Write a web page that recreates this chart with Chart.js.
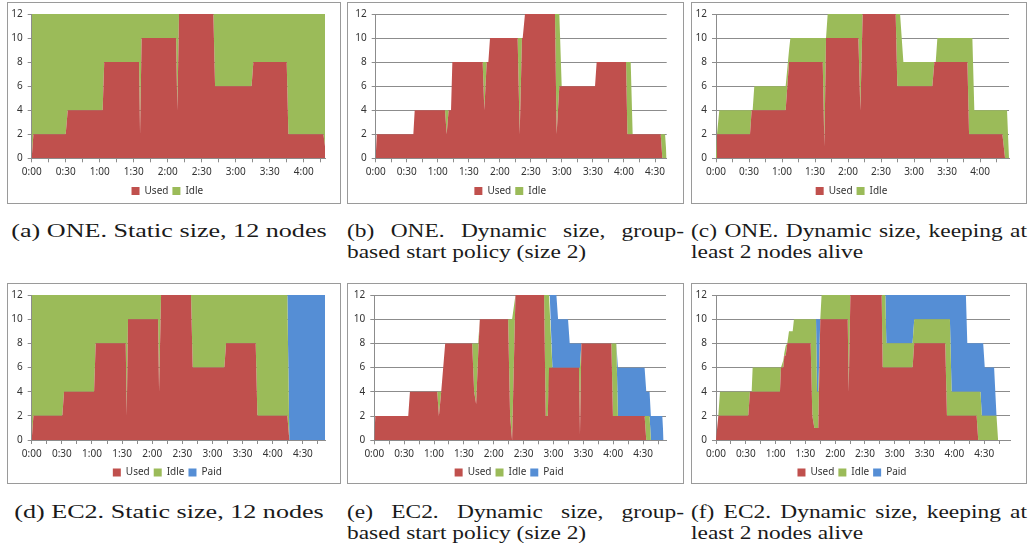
<!DOCTYPE html>
<html>
<head>
<meta charset="utf-8">
<script src="https://cdn.jsdelivr.net/npm/chart.js@4.4.1/dist/chart.umd.min.js"></script>
<style>
  body { margin: 0; background: #fff; width: 1029px; height: 550px; position: relative; overflow: hidden; }
  .box { position: absolute; border: 1px solid #9a9a9a; box-sizing: border-box; overflow: hidden; }
  .box canvas { position: absolute; left: 0; top: 0; }
  .cap { position: absolute; font-family: "Liberation Serif", serif; font-size: 18px; line-height: 21px;
         color: #1a1a1a; transform-origin: 0 0; text-align: justify; text-align-last: left; }
  .cap.single { text-align: center; text-align-last: center; white-space: nowrap; }
</style>
</head>
<body>

<script>
// minutes since start, node counts
const aTime = [0, 1.5, 30, 31.8, 62.6, 64, 94.7, 95.6, 97, 127.4, 128.5, 130, 160.3, 161.8, 194, 195.6, 225, 226.5, 257.4, 258.8];
const aUsed = [0, 2, 2, 4, 4, 8, 8, 2, 10, 10, 4, 12, 12, 6, 6, 8, 8, 2, 2, 1];
const aIdle = [12, 10, 10, 8, 8, 4, 4, 10, 2, 2, 8, 0, 0, 6, 6, 4, 4, 10, 10, 11];

const bTime = [0, 1, 36.4, 37.7, 67, 68.6, 70.5, 72.8, 74.1, 103.4, 105, 107.3, 108.9, 110.5, 137.2, 139.2, 141.4, 142.1, 144.3,
               173.3, 174.9, 177.5, 179.8, 212, 213.6, 242, 243.3, 246.5, 248.4, 275.5, 277.1, 279.7, 281.3];
const bUsed = [0, 2, 2, 4, 4, 2, 4, 4, 8, 8, 4, 8, 8, 10, 10, 2, 10, 10, 12, 12, 2, 6, 6, 6, 8, 8, 2, 2, 2, 2, 0, 0, 0];
const bIdle = [0, 0, 0, 0, 0, 2, 0, 0, 0, 0, 4, 0, 0, 0, 0, 8, 0, 0, 0, 0, 10, 6, 0, 0, 0, 0, 6, 6, 0, 0, 2, 2, 0];

const cTime = [0, 0.9, 3, 30.9, 32.4, 33.3, 34.8, 63.3, 66.4, 67.6, 97, 98.5, 100, 101.5, 129.4, 131.2, 133.3, 163.3, 164.8,
               167.3, 170.3, 196.6, 198.5, 199.7, 201.2, 228.5, 230, 233, 234.8, 260.3, 262.7, 264.5, 266.3];
const cUsed = [0, 2, 2, 2, 4, 4, 4, 4, 8, 8, 8, 1, 10, 10, 10, 4, 12, 12, 6, 6, 6, 6, 8, 8, 8, 8, 2, 2, 2, 2, 0, 0, 0];
const cIdle = [0, 0, 2, 2, 0, 0, 2, 2, 1, 2, 2, 9, 0, 2, 2, 8, 0, 0, 6, 6, 2, 2, 0, 0, 2, 2, 8, 8, 2, 2, 4, 4, 0];

const dTime = [0, 1.7, 30.5, 32.2, 62.1, 63.7, 93.6, 94.6, 95.9, 125.8, 126.8, 128.8, 158.6, 160.3, 191.8, 193.5, 223, 224.7, 254.5, 256.5, 292];
const dUsed = [0, 2, 2, 4, 4, 8, 8, 2, 10, 10, 4, 12, 12, 6, 6, 8, 8, 2, 2, 0, 0];
const dIdle = [12, 10, 10, 8, 8, 4, 4, 10, 2, 2, 8, 0, 0, 6, 6, 4, 4, 10, 10, 0, 0];
const dPaid = [0, 0, 0, 0, 0, 0, 0, 0, 0, 0, 0, 0, 0, 0, 0, 0, 0, 0, 0, 12, 12];

const eTime = [0, 1, 34.1, 35.8, 63.2, 64.9, 67.2, 71.2, 98.3, 100.3, 102.3, 104.3, 106, 134.4, 136.4, 138.4, 141.8,
               170.5, 172.2, 174.2, 175.5, 176.2, 178.9, 182.9, 184.6, 194.6, 196.3, 205.6, 206.6, 208,
               238.1, 239.7, 243.1, 244.7, 271.5, 273.2, 276.5, 277.8, 289.3, 290.6];
const eUsed = [0, 2, 2, 4, 4, 2, 4, 8, 8, 4, 3, 7, 10, 10, 2, 0, 12, 12, 2, 2, 6, 6, 6, 6, 6, 6, 6, 6, 0.5, 8,
               8, 2, 2, 2, 2, 0, 0, 0, 0, 0];
const eIdle = [0, 0, 0, 0, 0, 2, 0, 0, 0, 4, 5, 1, 0, 0, 8, 10, 0, 0, 10, 10, 6, 6, 0, 0, 0, 0, 0, 0, 5.5, 0,
               0, 6, 6, 0, 0, 2, 2, 0, 0, 0];
const ePaid = [0, 0, 0, 0, 0, 0, 0, 0, 0, 0, 0, 0, 0, 0, 0, 0, 0, 0, 0, 0, 0, 0, 6, 6, 4, 4, 2, 2, 2, 0,
               0, 0, 0, 4, 4, 2, 2, 2, 2, 0];

const fTime = [0, 2.35, 4, 32.5, 34.2, 35.9, 36.9, 64.4, 65.4, 67.8, 68.8, 70.2, 71.8, 73.5, 77.2, 78.5, 95.3, 97, 99,
               100.7, 101.7, 103, 105, 106.3, 132.6, 133.6, 135.3,
               166.8, 167.8, 170.5, 171.5, 197.9, 199.6, 230.8, 232.5, 235.5, 237.2, 251.6, 253, 262.4, 264, 266.3,
               267.6, 269, 270.6, 280, 282.4, 284];
const fUsed = [0, 2, 2, 2, 4, 4, 4, 4, 6, 6, 7, 7, 8, 8, 8, 8, 8, 2, 1, 1, 1, 1, 10, 10, 10, 4, 12,
               12, 6, 6, 6, 6, 8, 8, 2, 2, 2, 2, 2, 2, 0, 0, 0, 0, 0, 0, 0, 0];
const fIdle = [0, 0, 2, 2, 0, 0, 2, 2, 0, 0.6, 0.2, 0.8, 0, 1, 1, 2, 2, 8, 9, 9, 3, 3, 0, 2, 2, 8, 0,
               0, 6, 6, 2, 2, 2, 2, 8, 8, 2, 2, 2, 2, 4, 4, 2, 2, 2, 2, 2, 0];
const fPaid = [0, 0, 0, 0, 0, 0, 0, 0, 0, 0, 0, 0, 0, 0, 0, 0, 0, 0, 0, 0, 6, 6, 0, 0, 0, 0, 0,
               0, 0, 0, 4, 4, 2, 2, 2, 2, 8, 8, 4, 4, 4, 4, 6, 6, 4, 4, 0, 0];

const xMax = { a: 258.8, b: 281.3, c: 266.3, d: 292, e: 293, f: 296 };

const captions = {
  a: '(a) ONE. Static size, 12 nodes',
  b: '(b) ONE. Dynamic size, group-based start policy (size 2)',
  c: '(c) ONE. Dynamic size, keeping at least 2 nodes alive',
  d: '(d) EC2. Static size, 12 nodes',
  e: '(e) EC2. Dynamic size, group-based start policy (size 2)',
  f: '(f) EC2. Dynamic size, keeping at least 2 nodes alive'
};

const RED = '#C0504D', GREEN = '#9BBB59', BLUE = '#558ED5';
const AXIS = '#8c8c8c';
const tickFont = { family: 'Noto Sans', size: 10 };

// box position and where the plot area should land inside the canvas
const panels = [
  { id: 'a', box: [7, 2, 334, 202], pad: { l: 1.7, r: 15, t: 8.7, b: -3, xh: 23.7 }, times: aTime,
    series: [['Used', aUsed, RED], ['Idle', aIdle, GREEN]] },
  { id: 'b', box: [347, 2, 337, 202], pad: { l: 5.7, r: 16.3, t: 8.3, b: -3, xh: 23.7 }, times: bTime,
    series: [['Used', bUsed, RED], ['Idle', bIdle, GREEN]] },
  { id: 'c', box: [691, 2, 336, 202], pad: { l: 2, r: 17, t: 8.3, b: -3, xh: 23.7 }, times: cTime,
    series: [['Used', cUsed, RED], ['Idle', cIdle, GREEN]] },
  { id: 'd', box: [7, 283, 334, 201], pad: { l: 1.7, r: 15, t: 9.7, b: -4.5, xh: 23.5 }, times: dTime,
    series: [['Used', dUsed, RED], ['Idle', dIdle, GREEN], ['Paid', dPaid, BLUE]] },
  { id: 'e', box: [347, 283, 337, 201], pad: { l: 4.3, r: 17, t: 9.7, b: -4.5, xh: 23.2 }, times: eTime,
    series: [['Used', eUsed, RED], ['Idle', eIdle, GREEN], ['Paid', ePaid, BLUE]] },
  { id: 'f', box: [691, 283, 336, 201], pad: { l: 2, r: 16, t: 9.3, b: -4.5, xh: 23.5 }, times: fTime,
    series: [['Used', fUsed, RED], ['Idle', fIdle, GREEN], ['Paid', fPaid, BLUE]] }
];

function fmtTime(v) {
  const h = Math.floor(v / 60), m = v % 60;
  return h + ':' + String(m).padStart(2, '0');
}

panels.forEach(p => {
  const [left, top, w, h] = p.box;
  const box = document.createElement('div');
  box.className = 'box';
  Object.assign(box.style, { left: left + 'px', top: top + 'px', width: w + 'px', height: h + 'px' });
  const canvas = document.createElement('canvas');
  canvas.width = w - 2;
  canvas.height = h - 2;
  box.appendChild(canvas);
  document.body.appendChild(box);

  new Chart(canvas, {
    type: 'line',
    data: {
      datasets: p.series.map(([label, values, color], k) => ({
        label,
        data: p.times.map((t, i) => ({ x: t, y: values[i] })),
        backgroundColor: color,
        borderColor: 'rgba(0,0,0,0)',
        borderWidth: 0,
        pointRadius: 0,
        tension: 0,
        fill: k === 0 ? 'origin' : '-1'
      }))
    },
    options: {
      responsive: false,
      animation: false,
      events: [],
      layout: { padding: { left: p.pad.l, right: p.pad.r, top: p.pad.t, bottom: p.pad.b } },
      plugins: {
        legend: {
          position: 'bottom',
          labels: { boxWidth: 8, boxHeight: 8, padding: 4, color: '#333', font: tickFont }
        },
        tooltip: { enabled: false }
      },
      scales: {
        x: {
          type: 'linear', min: 0, max: xMax[p.id],
          afterFit: s => { s.height = p.pad.xh; },
          grid: { drawOnChartArea: false, tickLength: 4, color: AXIS },
          border: { color: AXIS },
          ticks: {
            stepSize: 15, autoSkip: false, maxRotation: 0, includeBounds: false, padding: 4,
            color: '#333', font: tickFont,
            callback: v => (v % 30 === 0 ? fmtTime(v) : '')
          }
        },
        y: {
          stacked: true, min: 0, max: 12,
          afterFit: s => { s.width = 22; },
          grid: { color: AXIS, tickLength: 4 },
          border: { color: AXIS },
          ticks: { stepSize: 2, padding: 5, color: '#333', font: tickFont }
        }
      }
    }
  });

  // caption under the panel
  const cap = document.createElement('div');
  const single = p.id === 'a' || p.id === 'd';
  const scale = single ? 1.45 : 1.3;
  cap.className = 'cap' + (single ? ' single' : '');
  cap.textContent = captions[p.id];
  Object.assign(cap.style, {
    left: (single ? left - 5 : left) + 'px',
    top: (top < 100 ? 221 : 502) + 'px',
    width: (w / scale) + 'px',
    transform: 'scaleX(' + scale + ')'
  });
  document.body.appendChild(cap);
});
</script>
</body>
</html>
